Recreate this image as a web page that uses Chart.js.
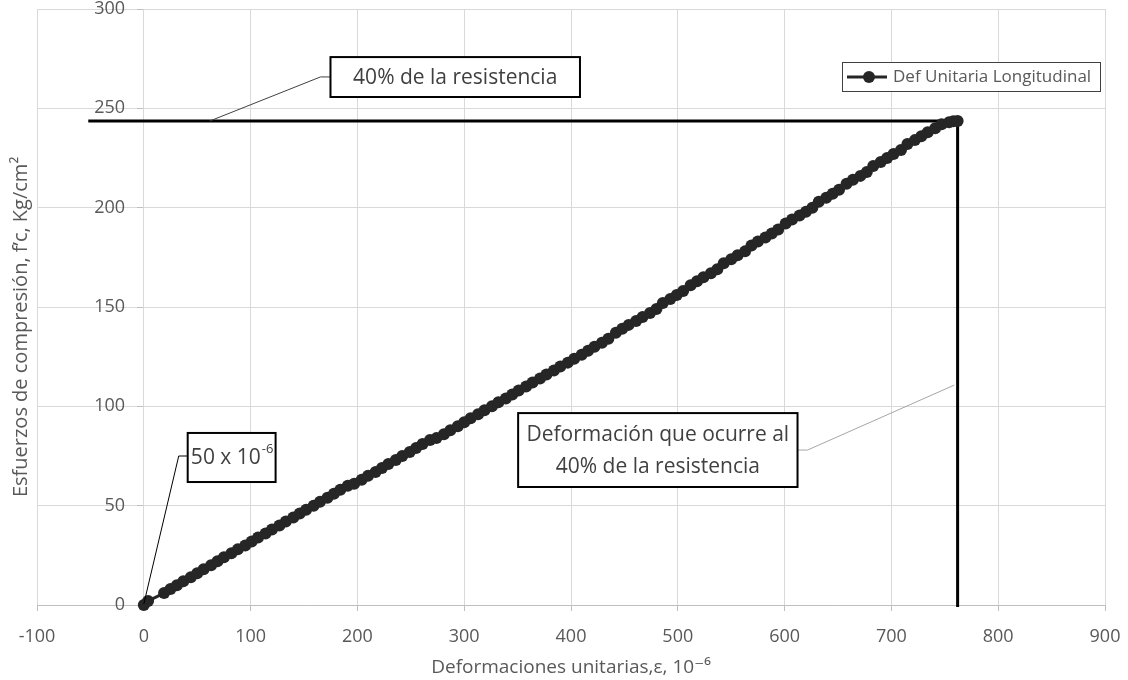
<!DOCTYPE html>
<html>
<head>
<meta charset="utf-8">
<script src="https://cdn.jsdelivr.net/npm/chart.js@4"></script>
<style>
  html, body { margin: 0; padding: 0; background: #fff; }
</style>
</head>
<body>
<canvas id="chart" width="1128" height="680"></canvas>
<script>
// strain (x 10^-6) and stress (kg/cm2)
var strainX = [0, 4, 19, 25, 31, 37, 44, 50, 56, 63, 69, 75, 82, 88, 95, 101, 107, 114, 120, 127,
  133, 140, 146, 152, 159, 165, 172, 178, 184, 191, 197, 204, 210, 217, 223, 229, 236, 242, 249, 255,
  261, 268, 274, 281, 287, 294, 300, 306, 313, 319, 326, 332, 339, 345, 351, 358, 364, 371, 377, 384,
  390, 397, 403, 410, 416, 422, 429, 435, 442, 448, 454, 461, 467, 474, 480, 486, 493, 499, 505, 512,
  518, 524, 531, 537, 543, 550, 556, 563, 569, 575, 582, 588, 594, 601, 607, 614, 620, 626, 632, 639,
  645, 651, 658, 664, 671, 677, 683, 690, 696, 702, 709, 715, 722, 728, 734, 741, 747, 754, 758, 762];
var stressY = [0, 2, 6, 8, 10, 12, 14, 16, 18, 20, 22, 24, 26, 28, 30, 32, 34, 36, 38, 40,
  42, 44, 46, 48, 50, 52, 54, 56, 58, 60, 61, 63, 65, 67, 69, 71, 73, 75, 77, 79,
  81, 83, 84, 86, 88, 90, 92, 94, 96, 98, 100, 102, 104, 106, 108, 110, 112, 114, 116, 118,
  120, 122, 124, 126, 128, 130, 132, 134, 137, 139, 141, 143, 145, 147, 149, 152, 154, 156, 158, 161,
  163, 165, 167, 169, 172, 174, 176, 178, 181, 183, 185, 187, 189, 192, 194, 196, 198, 200, 203, 205,
  207, 209, 212, 214, 216, 218, 221, 223, 225, 227, 229, 232, 234, 236, 238, 240, 242, 243, 243.5, 243.6];

// reference lines: 40% of strength and the strain where it happens
var limitLineX = [-52, 748];
var limitLineY = [243.6, 243.6];
var strainLineX = [762, 762];
var strainLineY = [242, -1];

var seriesName = 'Def Unitaria Longitudinal';
var xTitle = 'Deformaciones unitarias,\u03b5, 10\u207b\u2076';
var yTitle = 'Esfuerzos de compresi\u00f3n, f\u2019c, Kg/cm\u00b2';

function toPoints(xs, ys) {
  var out = [];
  for (var i = 0; i < xs.length; i++) out.push({x: xs[i], y: ys[i]});
  return out;
}

var textGrey = '#595959';
var font = '"Open Sans", "DejaVu Sans", sans-serif';

var notesPlugin = {
  id: 'notes',
  afterDraw: function(chart) {
    var c = chart.ctx;
    var xs = chart.scales.x, ys = chart.scales.y;
    var px = function(v) { return xs.getPixelForValue(v); };
    var py = function(v) { return ys.getPixelForValue(v); };

    c.save();
    // y axis title
    c.save();
    c.translate(21, py(140));
    c.rotate(-Math.PI / 2);
    c.fillStyle = textGrey;
    c.font = '20px ' + font;
    c.textAlign = 'center';
    c.textBaseline = 'middle';
    c.fillText(yTitle, 0, 0);
    c.restore();

    function leader(pts, color) {
      c.beginPath();
      c.strokeStyle = color;
      c.lineWidth = 1;
      c.moveTo(px(pts[0][0]), py(pts[0][1]));
      for (var i = 1; i < pts.length; i++) c.lineTo(px(pts[i][0]), py(pts[i][1]));
      c.stroke();
    }
    function box(x1, y1, x2, y2) {
      var l = px(x1), t = py(y1), r = px(x2), b = py(y2);
      c.fillStyle = '#fff';
      c.fillRect(l, t, r - l, b - t);
      c.strokeStyle = '#000';
      c.lineWidth = 2;
      c.strokeRect(l, t, r - l, b - t);
      return {l: l, t: t, r: r, b: b};
    }

    // callout: 40% de la resistencia
    leader([[174.8, 265.8], [165.4, 265.8], [61.7, 243.6]], '#404040');
    var a = box(174.8, 275.8, 408.4, 255.7);
    c.fillStyle = '#404040';
    c.font = '21px ' + font;
    c.textAlign = 'center';
    c.textBaseline = 'middle';
    c.fillText('40% de la resistencia', (a.l + a.r) / 2, (a.t + a.b) / 2 + 1);

    // callout: 50 x 10^-6
    leader([[41.1, 75.0], [32.7, 75.0], [0, 0.5]], '#000');
    var b = box(41.1, 86.6, 123.4, 61.9);
    c.fillStyle = '#404040';
    c.textAlign = 'left';
    var main = '50 x 10', sup = '-6';
    c.font = '21px ' + font;
    var wMain = c.measureText(main).width;
    c.font = '13px ' + font;
    var wSup = c.measureText(sup).width;
    var sx = (b.l + b.r) / 2 - (wMain + wSup) / 2;
    var sy = (b.t + b.b) / 2 + 1;
    c.font = '21px ' + font;
    c.fillText(main, sx, sy);
    c.font = '13px ' + font;
    c.fillText(sup, sx + wMain + 1, sy - 9);

    // callout: deformacion que ocurre al 40%
    leader([[612.1, 78.0], [621.5, 78.0], [758.9, 110.7]], '#a6a6a6');
    var d = box(350.5, 96.6, 612.1, 59.4);
    c.fillStyle = '#404040';
    c.font = '21px ' + font;
    c.textAlign = 'center';
    c.fillText('Deformaci\u00f3n que ocurre al', (d.l + d.r) / 2, d.t + 22);
    c.fillText('40% de la resistencia', (d.l + d.r) / 2, d.t + 54);

    // legend
    var lx = 842, ly = 62, lw = 258, lh = 29;
    c.fillStyle = '#fff';
    c.fillRect(lx, ly, lw, lh);
    c.strokeStyle = '#404040';
    c.lineWidth = 1;
    c.strokeRect(lx + 0.5, ly + 0.5, lw, lh);
    c.beginPath();
    c.strokeStyle = '#262626';
    c.lineWidth = 3;
    c.moveTo(lx + 5, ly + lh / 2 + 0.5);
    c.lineTo(lx + 45, ly + lh / 2 + 0.5);
    c.stroke();
    c.beginPath();
    c.fillStyle = '#262626';
    c.arc(lx + 27, ly + lh / 2 + 0.5, 6, 0, Math.PI * 2);
    c.fill();
    c.fillStyle = textGrey;
    c.font = '17px ' + font;
    c.textAlign = 'left';
    c.textBaseline = 'middle';
    c.fillText(seriesName, lx + 51, ly + lh / 2 + 1);
    c.restore();
  }
};

var ctx = document.getElementById('chart').getContext('2d');
var chart = new Chart(ctx, {
  type: 'scatter',
  data: {
    datasets: [{
      label: seriesName,
      data: toPoints(strainX, stressY),
      showLine: true,
      borderColor: '#262626',
      backgroundColor: '#262626',
      borderWidth: 3,
      pointRadius: 6,
      pointBorderWidth: 0,
      clip: false,
      order: 1
    }, {
      label: 'limite',
      data: toPoints(limitLineX, limitLineY),
      showLine: true,
      borderColor: '#000',
      borderWidth: 3,
      pointRadius: 0,
      order: 2
    }, {
      label: 'deformacion',
      data: toPoints(strainLineX, strainLineY),
      showLine: true,
      borderColor: '#000',
      borderWidth: 3,
      pointRadius: 0,
      clip: false,
      order: 2
    }]
  },
  options: {
    responsive: false,
    animation: false,
    devicePixelRatio: 1,
    layout: { padding: { left: 37, right: 23, top: 9, bottom: 0 } },
    plugins: {
      legend: { display: false },
      tooltip: { enabled: false }
    },
    scales: {
      x: {
        type: 'linear',
        min: -100,
        max: 900,
        afterFit: function(s) { s.height = 75; s.paddingLeft = 0; s.paddingRight = 0; },
        ticks: { stepSize: 100, color: textGrey, font: { family: font, size: 18 }, padding: 15 },
        grid: { color: '#d9d9d9', tickColor: '#bfbfbf', tickLength: 6 },
        border: { color: '#bfbfbf' },
        title: {
          display: true,
          text: xTitle,
          color: textGrey,
          font: { family: font, size: 19 },
          padding: { top: 8, bottom: 1 }
        }
      },
      y: {
        type: 'linear',
        position: { x: 0 },
        min: 0,
        max: 300,
        afterFit: function(s) { s.paddingTop = 0; s.paddingBottom = 0; },
        ticks: {
          stepSize: 50,
          color: textGrey,
          font: { family: font, size: 18 },
          callback: function(v) { return v + '    '; }
        },
        grid: { color: '#d9d9d9', tickColor: '#bfbfbf', tickLength: 6 },
        border: { color: '#d9d9d9' }
      }
    }
  },
  plugins: [notesPlugin]
});
</script>
</body>
</html>
